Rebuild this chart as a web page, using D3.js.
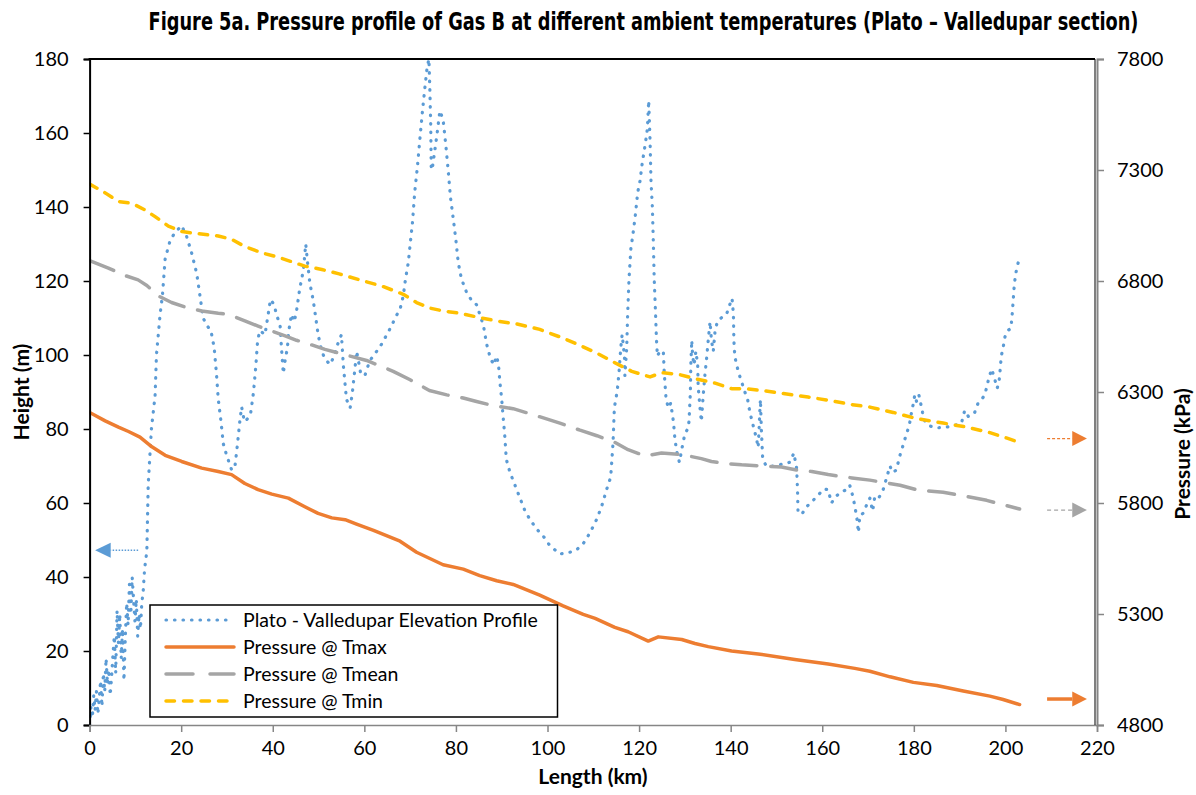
<!DOCTYPE html>
<html><head><meta charset="utf-8">
<script src="https://cdn.jsdelivr.net/npm/d3@7"></script>
<style>body{margin:0;background:#fff}svg{display:block}</style>
</head><body><svg id="c" width="1196" height="795"></svg>
<script>
// ---------- data ----------
const titleText = "Figure 5a. Pressure profile of Gas B at different ambient temperatures (Plato \u2013 Valledupar section)";
const xTicks = [0,20,40,60,80,100,120,140,160,180,200,220];
const heightTicks = [0,20,40,60,80,100,120,140,160,180];
const pressureTicks = [4800,5300,5800,6300,6800,7300,7800];
const seriesNames = ["Plato - Valledupar Elevation Profile","Pressure @ Tmax","Pressure @ Tmean","Pressure @ Tmin"];

const elevKm = [0,0.3,0.6,0.9,1.2,1.5,1.8,2.1,2.4,2.7,3.0,3.3,3.6,3.9,4.2,4.5,4.8,5.1,5.4,5.7,6.0,6.3,6.6,6.9,7.2,7.5,7.8,8.1,8.4,8.7,9.0,9.3,9.6,9.9,10.2,10.5,10.8,11.1,11.4,11.7,12.0,12.5,
12.8,13.5,14.3,14.6,15.4,15.9,16.5,17.6,18.6,20.1,21.2,22.3,23.4,24.1,24.8,25.6,26.5,27.2,27.7,28.1,28.7,29.2,29.9,31,31.7,32.3,32.8,33.2,33.8,34.7,35.2,35.8,36.3,36.7,37.2,38.3,39,39.5,40.3,40.8,41.6,41.9,42.3,42.7,43.2,43.5,44.1,44.7,45.2,45.9,46.7,47.2,47.6,48.1,48.8,49.4,49.9,50.7,51.4,52.5,53.4,54.2,55,55.4,55.8,56.1,56.9,57.4,58,58.3,58.7,59.2,60.1,61.2,62.7,63.8,64.9,66,66.7,67.8,68.5,69,69.6,70.1,70.5,71,71.6,72.1,72.7,73.2,73.7,74.1,74.3,74.5,74.6,74.8,75.8,76.5,77.2,77.8,78.3,78.8,79.4,80,80.5,81.2,82.3,83.4,84.5,85.2,86,86.7,87.4,88.2,88.9,89.3,89.6,90,90.3,90.7,91,91.8,92.9,94,95.1,96.2,97.6,99.1,100.5,102.7,104.9,106.3,107.8,109.3,110.7,111.8,112.9,113.8,114.3,114.6,114.9,115.2,115.6,116,116.3,116.8,116.9,117.3,117.5,117.8,118.2,118.7,119.2,119.7,120.2,120.7,121.3,121.8,122.1,122.4,122.6,122.9,123.1,123.3,123.6,123.8,124,124.5,125.3,125.5,125.9,126.4,126.9,127.5,127.8,128.2,128.8,129.4,130,130.6,130.9,131.2,131.3,131.5,131.7,132,132.4,132.8,132.9,133.3,133.6,134,134.4,134.7,135.1,135.5,135.8,136.2,136.6,137.1,137.9,139.1,139.8,140.3,140.6,140.7,140.9,141.3,141.8,142.4,143.1,143.7,144.2,144.9,145.6,146,146.2,146.4,146.5,146.7,147,147.8,149.7,151.5,152.9,153.8,154.4,154.6,154.7,155.5,156.6,158,159.3,160.4,161.3,162,163.1,164.2,165.3,166,166.8,167.1,167.5,167.9,168.2,168.9,169.7,170.4,171,171.5,172.4,173.3,174.4,174.8,175.3,176.1,176.6,177.1,177.7,178.4,179,179.5,179.9,180.2,180.6,181.1,181.5,181.9,182.4,183.5,185.1,187.1,189,190.4,191.1,191.9,192.6,193.3,194,194.8,195.5,195.9,196.4,197,197.3,197.7,198.2,198.6,198.8,199.1,199.5,199.9,200.5,201.2,201.5,201.7,201.9,202.2,202.6,202.9];
const elevH = [0,5,2,8,4,9,3,7,12,5,14,9,18,11,15,8,13,19,24,14,31,22,30,18,26,12,24,33,27,38,30,40,34,28,34,24,30,26,33,36,42,47,
65,80,89,100,111,116,126,131,133,135,132,127.5,122,116,110,108,106.6,102,95,88,82,76,73,69,69.4,76,82,86,82,83,84.5,90,97,104,106.6,105.5,111,115,113.6,111,108,102,95,98.5,102,106.6,111,109,112,118,123,130,125,119.4,115,110,105.5,101,99,97.4,99.7,103,105.5,97.4,92,88,85.7,90,97,101,98.5,95,94.4,98.5,101,103,105.5,108,110,112.4,116,120.6,125,131,135.7,144,151,158,166,172,177.6,180,172,162,151,150,159,166,163.6,156.6,150,142.7,137,131,125,120.6,117,114.8,113.6,111,108,103,99.7,97.3,99.7,97.3,92.7,88,83.4,77.6,71.8,68.3,64.8,61.3,57.8,55.5,53,51,48.5,46.2,46.7,47.3,49,52,55.5,59,63.6,67,76,85.7,88,90,95,102,105.5,99.7,94.4,102,111,120.6,128.7,133,138,144,147,152,156.6,161,168.8,157.8,147,140,131,120.6,111,104,99.7,101,101,95,88,85.7,87,82,77.6,74,71,75,78.7,80,82,90,97.3,104,99.7,97.3,101,97.3,91.5,85.7,82,89,95,98.5,104,109,104,101,106.6,109,110,111,113.6,115.3,111,104,99.7,97.3,95,92.7,90,88,84.5,81,77.6,75,80,85.7,88,80,71.7,70,70,70.6,71,73.5,69.4,63.6,57.8,56.9,59,60.7,62.4,63.8,63.6,60,61.9,63,63.6,64.8,61.3,59,56.6,52,56.6,57.2,59.5,61.3,57.8,61.9,61.5,63.6,68.3,70,68.3,68.8,71,73.5,75.8,78.7,81,84.5,86.9,89.2,87.4,89.2,86.9,84.5,82.2,80.8,80.3,80.5,81,81.6,85,83.4,83.6,84.5,86.9,88,89.2,91.3,93.8,96.2,95,93.3,91,92.7,95.3,99.7,102,104.9,106.6,107.2,111.3,114.8,118.3,121.7,124,125.5];

const tmaxKm = [0,3.4,6.3,8.5,11,13.6,16.5,20.1,24.5,28.1,31,33.9,36.8,39.8,43.4,47,49.9,52.9,55.8,58.3,62,67.8,71.4,74.3,77.2,81.6,85.2,88.9,92.5,98.3,103.4,107.8,110.4,114.7,117.6,122,124.2,129.3,132.2,135.1,140.2,146,154,161.3,167.1,170.4,174.8,179.9,185,190.8,196.6,199.5,203.1];
const tmaxP = [6208,6170,6142,6122,6097,6053,6015,5987,5957,5942,5928,5888,5860,5840,5822,5783,5753,5733,5725,5705,5677,5628,5578,5550,5522,5502,5473,5450,5433,5385,5337,5298,5280,5240,5220,5178,5197,5185,5167,5153,5133,5120,5095,5075,5055,5042,5017,4992,4978,4953,4930,4915,4892];

const tmeanKm = [0,4.1,7.7,10.6,12.5,15,17.9,20.8,24.5,28.1,30.3,33.9,36.8,39.4,42.7,45.2,47.8,51.4,54.5,60.5,66.3,70,74.2,78,81.6,84.5,88.2,92.5,97.6,102.7,107.1,110.8,114.7,117.6,121.3,124.9,129.3,133.6,135.8,139.5,142.4,146.7,151.1,154.7,157.7,161.3,166.5,170.4,177,180.6,186.4,190.8,195.9,199.5,203.1];
const tmeanP = [6892,6858,6825,6805,6780,6733,6703,6683,6665,6655,6650,6620,6597,6577,6553,6533,6517,6492,6475,6442,6393,6355,6307,6287,6273,6257,6238,6225,6193,6160,6128,6103,6073,6040,6012,6025,6018,6000,5987,5977,5972,5967,5962,5947,5942,5928,5913,5903,5880,5860,5848,5832,5812,5792,5773];

const tminKm = [0,3.4,6.3,9.2,12.1,14.3,17.2,20.1,23.7,28.1,31,33.9,37.6,41.2,44.1,47,50.7,54.5,59,64.1,68.5,71.4,74.3,77.2,80.9,84.5,88.9,93.2,98.3,102.7,107.1,110.8,114.7,118.4,122.4,124.9,128.5,132.2,136.6,140.2,143.1,147.5,152.6,156.9,161.3,166.5,170.4,175.5,180.6,186.4,191.5,196.6,200.2,203.1];
const tminP = [7237,7197,7158,7150,7120,7090,7047,7023,7013,7003,6988,6955,6927,6907,6887,6867,6852,6832,6805,6775,6740,6703,6678,6665,6655,6638,6620,6607,6582,6548,6510,6475,6432,6393,6368,6387,6380,6360,6340,6315,6315,6305,6290,6277,6263,6243,6232,6208,6180,6160,6142,6117,6093,6073];

// ---------- layout ----------
const W = 1196, H = 795;
const L = 89.6, R = 1097, T = 59, B = 725;
const FONT = "Lato, 'Open Sans', sans-serif";
const C = {blue:"#5B9BD5", orange:"#ED7D31", gray:"#A5A5A5", yellow:"#FFC000"};

const svg = d3.select("#c");
const x = d3.scaleLinear().domain([0,220]).range([L,R]);
const yL = d3.scaleLinear().domain([0,180]).range([B,T]);
const yR = d3.scaleLinear().domain([4800,7800]).range([B,T]);

svg.append("rect").attr("width",W).attr("height",H).attr("fill","#fff");

// title: tall bold glyphs, squeezed horizontally to the reference width
const titleG = svg.append("g");
const title = titleG.append("text").attr("x",0).attr("y",0).attr("text-anchor","middle")
  .attr("font-family","'DejaVu Sans Condensed','DejaVu Sans',sans-serif")
  .attr("font-weight","bold").attr("font-size",24)
  .text(titleText);
const tw = title.node().getComputedTextLength();
const sx = tw > 0 ? 990/tw : 1;
titleG.attr("transform",`translate(643.5,30) scale(${sx},1)`);

// clip
svg.append("clipPath").attr("id","plotclip").append("rect")
  .attr("x",L).attr("y",T-2).attr("width",R-L).attr("height",B-T+2);

const gPlot = svg.append("g").attr("clip-path","url(#plotclip)");

// elevation
const elevPts = elevKm.map((k,i)=>[k,elevH[i]]);
gPlot.append("path").datum(elevPts)
  .attr("d", d3.line().x(d=>x(d[0])).y(d=>yL(d[1])))
  .attr("fill","none").attr("stroke",C.blue).attr("stroke-width",3.2)
  .attr("stroke-linecap","round").attr("stroke-linejoin","round")
  .attr("stroke-dasharray","0.5 8");

function pLine(km, p, color, dash){
  const pts = km.map((k,i)=>[k,p[i]]);
  gPlot.append("path").datum(pts)
    .attr("d", d3.line().x(d=>x(d[0])).y(d=>yR(d[1])))
    .attr("fill","none").attr("stroke",color).attr("stroke-width",3.5)
    .attr("stroke-linecap","round").attr("stroke-linejoin","round")
    .attr("stroke-dasharray",dash);
}
pLine(tmaxKm, tmaxP, C.orange, null);
pLine(tmeanKm, tmeanP, C.gray, "26 14");
pLine(tminKm, tminP, C.yellow, "8.5 9");

// axes
const axL = svg.append("g").attr("transform",`translate(${L},0)`)
  .call(d3.axisLeft(yL).tickValues(heightTicks).tickSize(6).tickPadding(15).tickFormat(d3.format("d")));
axL.select(".domain").attr("stroke","#000").attr("stroke-width",2);
axL.selectAll(".tick line").attr("stroke","#000").attr("stroke-width",1.5);
axL.selectAll("text").attr("font-family",FONT).attr("font-size",20).attr("fill","#000");

const axR = svg.append("g").attr("transform",`translate(${R},0)`)
  .call(d3.axisRight(yR).tickValues(pressureTicks).tickSize(7).tickPadding(13).tickFormat(d3.format("d")));
axR.select(".domain").attr("stroke","#868686").attr("stroke-width",2);
axR.selectAll(".tick line").attr("stroke","#868686").attr("stroke-width",1.5);
axR.selectAll("text").attr("font-family",FONT).attr("font-size",20).attr("fill","#000");

const axB = svg.append("g").attr("transform",`translate(0,${B})`)
  .call(d3.axisBottom(x).tickValues(xTicks).tickSize(7).tickPadding(9).tickFormat(d3.format("d")));
axB.select(".domain").attr("stroke","#868686").attr("stroke-width",1.5);
axB.selectAll(".tick line").attr("stroke","#868686").attr("stroke-width",1.5);
axB.selectAll("text").attr("font-family",FONT).attr("font-size",20).attr("fill","#000");

// top border and inner right border
svg.append("line").attr("x1",L-1).attr("x2",R-2).attr("y1",T).attr("y2",T).attr("stroke","#000").attr("stroke-width",2);
svg.append("line").attr("x1",R-2).attr("x2",R-2).attr("y1",T).attr("y2",B).attr("stroke","#000").attr("stroke-width",1);

// axis titles
svg.append("text").attr("x",593).attr("y",784).attr("text-anchor","middle")
  .attr("font-family",FONT).attr("font-weight","bold").attr("font-size",21).text("Length (km)");
svg.append("text").attr("transform","translate(29,392) rotate(-90)").attr("text-anchor","middle")
  .attr("font-family",FONT).attr("font-weight","bold").attr("font-size",21).text("Height (m)");
svg.append("text").attr("transform","translate(1190,454) rotate(-90)").attr("text-anchor","middle")
  .attr("font-family",FONT).attr("font-weight","bold").attr("font-size",21).text("Pressure (kPa)");

// annotation arrows
function arrow(k0,k1,k2,yv,color,w,dash){
  const g = svg.append("g");
  g.append("line").attr("x1",x(k0)).attr("x2",x(k1)).attr("y1",yv).attr("y2",yv)
    .attr("stroke",color).attr("stroke-width",w).attr("stroke-dasharray",dash);
  const xb = x(k1), xt = x(k2);
  g.append("path").attr("d",`M${xb},${yv-7.5}L${xt},${yv}L${xb},${yv+7.5}Z`).attr("fill",color);
}
arrow(10.6,4.6,1.2,yL(47.2),C.blue,1.5,"1.5 1.5");
arrow(209.1,214.6,217.8,yR(6090),C.orange,1.2,"3 2");
arrow(209.1,214.6,217.8,yR(5768),C.gray,1.2,"4 3");
arrow(209.1,214.6,217.8,yR(4917),C.orange,3.5,null);

// legend
const lg = svg.append("g");
lg.append("rect").attr("x",150).attr("y",605).attr("width",407.5).attr("height",112)
  .attr("fill","#fff").attr("stroke","#000").attr("stroke-width",1.5);
const lgStyles = [
  {c:C.blue,w:3.2,d:"0.5 8"},
  {c:C.orange,w:3.5,d:null},
  {c:C.gray,w:3.5,d:"27 17"},
  {c:C.yellow,w:3.5,d:"8.5 9"}
];
seriesNames.forEach((n,i)=>{
  const yy = 620 + i*27;
  const s = lgStyles[i];
  lg.append("line").attr("x1",166).attr("x2",234).attr("y1",yy).attr("y2",yy)
    .attr("stroke",s.c).attr("stroke-width",s.w).attr("stroke-linecap","round").attr("stroke-dasharray",s.d);
  lg.append("text").attr("x",243).attr("y",yy).attr("dy","0.35em")
    .attr("font-family",FONT).attr("font-size",19.5).attr("fill","#000").text(n);
});
</script></body></html>
